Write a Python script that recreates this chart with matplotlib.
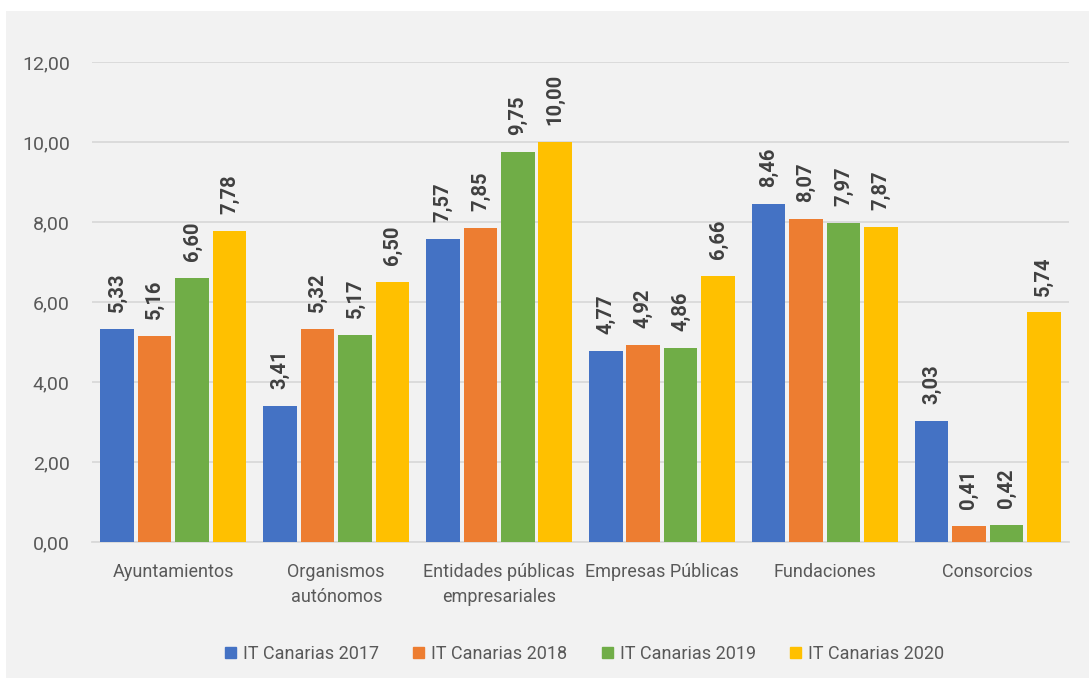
import matplotlib.pyplot as plt
import matplotlib.patches as mpatches
import numpy as np

categorias = ["Ayuntamientos", "Organismos\nautónomos", "Entidades públicas\nempresariales",
              "Empresas Públicas", "Fundaciones", "Consorcios"]
series = ["IT Canarias 2017", "IT Canarias 2018", "IT Canarias 2019", "IT Canarias 2020"]
v2017 = [5.33, 3.41, 7.57, 4.77, 8.46, 3.03]
v2018 = [5.16, 5.32, 7.85, 4.92, 8.07, 0.41]
v2019 = [6.60, 5.17, 9.75, 4.86, 7.97, 0.42]
v2020 = [7.78, 6.50, 10.00, 6.66, 7.87, 5.74]
colores = ["#4472c4", "#ed7d31", "#70ad47", "#ffc000"]

plt.rcParams['font.family'] = ['Roboto', 'DejaVu Sans']

fig = plt.figure(figsize=(10.89, 6.78), dpi=100)
fig.patch.set_facecolor("white")
# fondo gris del gráfico
fig.patches.append(mpatches.Rectangle((6 / 1089, 0), 1 - 6 / 1089, 1 - 11 / 678,
                                      transform=fig.transFigure, facecolor="#f2f2f2",
                                      edgecolor="none", zorder=-10))

ax = fig.add_axes([92 / 1089, 1 - 542 / 678, (1069 - 92) / 1089, 480 / 678])
ax.patch.set_alpha(0)

x = np.arange(len(categorias))
slot = 0.23
ancho = 0.206
for i, (vals, col, nom) in enumerate(zip([v2017, v2018, v2019, v2020], colores, series)):
    pos = x + (i - 1.5) * slot
    ax.bar(pos, vals, width=ancho, color=col, label=nom, zorder=3)
    for p, v in zip(pos, vals):
        ax.text(p, v + 0.42, f"{v:.2f}".replace(".", ","), rotation=90, ha="center",
                va="bottom", fontsize=14.5, fontweight="bold", color="#404040")

ax.set_xlim(-0.5, len(categorias) - 0.5)
ax.set_ylim(0, 12)
ax.set_yticks(np.arange(0, 13, 2))
ax.set_yticklabels([f"{t:.2f}".replace(".", ",") for t in np.arange(0, 13, 2)], fontsize=14)
ax.yaxis.grid(True, color="#d9d9d9", linewidth=1.3, zorder=0)
ax.set_xticks(x)
ax.set_xticklabels(categorias, linespacing=1.5, fontsize=13)
ax.tick_params(axis="both", length=0, colors="#595959")
ax.tick_params(axis="y", pad=16)
ax.tick_params(axis="x", pad=15)
for s in ["top", "right", "left"]:
    ax.spines[s].set_visible(False)
ax.spines["bottom"].set_color("#d9d9d9")
ax.spines["bottom"].set_linewidth(1.3)

handles = [mpatches.Patch(color=c) for c in colores]
fig.legend(handles, series, loc="center", bbox_to_anchor=(0.537, 1 - 654 / 678), ncol=4,
           frameon=False, fontsize=13, handlelength=0.6, handleheight=0.6,
           handletextpad=0.4, columnspacing=1.9, labelcolor="#595959")

fig.savefig("out.png", dpi=100, facecolor=fig.get_facecolor())
